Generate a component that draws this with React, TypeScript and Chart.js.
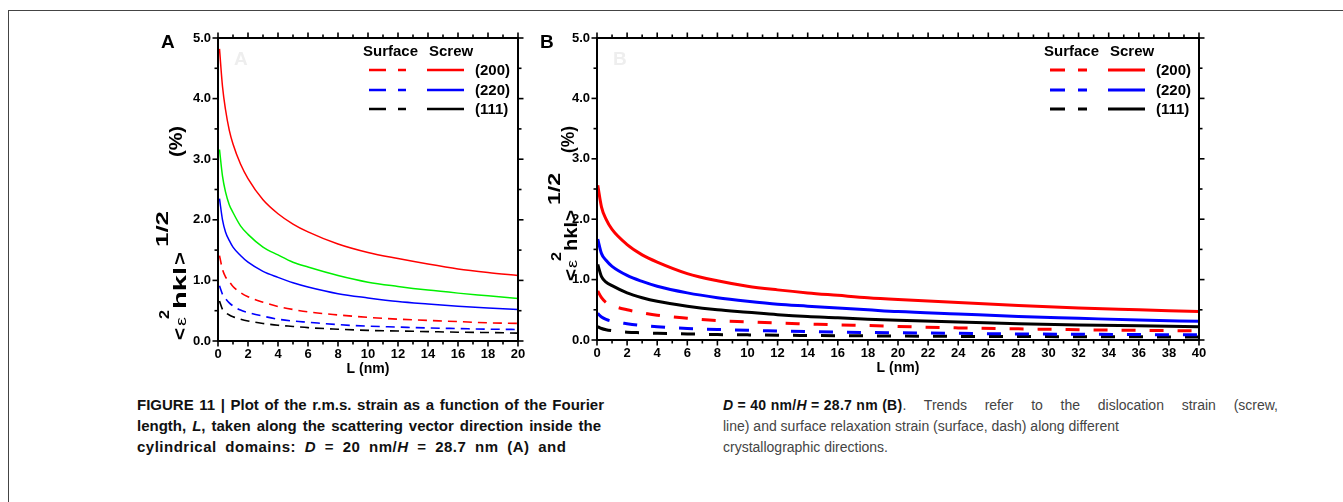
import React, { useEffect, useRef } from "react";
import { Chart, registerables } from "chart.js";

Chart.register(...registerables);

const FONT = "'Liberation Sans', Arial, Helvetica, sans-serif";

// ---------- Panel A data (D = 20 nm) ----------
const lA = [0.1, 0.3, 0.5, 0.75, 1, 1.5, 2, 3, 4, 5, 6, 8, 10, 12, 14, 16, 18, 20];
const screw200A = [4.82, 4.2, 3.82, 3.48, 3.25, 2.92, 2.68, 2.33, 2.1, 1.93, 1.8, 1.6, 1.46, 1.36, 1.27, 1.19, 1.13, 1.08];
const screwGreenA = [3.16, 2.72, 2.46, 2.25, 2.12, 1.9, 1.76, 1.55, 1.42, 1.3, 1.22, 1.08, 0.97, 0.9, 0.84, 0.79, 0.745, 0.7];
const screw220A = [2.35, 2.0, 1.8, 1.66, 1.55, 1.41, 1.3, 1.15, 1.05, 0.96, 0.89, 0.78, 0.71, 0.65, 0.61, 0.575, 0.545, 0.52];
const surface200A = [1.41, 1.18, 1.06, 0.98, 0.9, 0.8, 0.73, 0.64, 0.57, 0.52, 0.48, 0.43, 0.39, 0.36, 0.34, 0.32, 0.3, 0.29];
const surface220A = [0.91, 0.77, 0.7, 0.63, 0.58, 0.51, 0.47, 0.41, 0.36, 0.33, 0.31, 0.27, 0.245, 0.23, 0.215, 0.205, 0.195, 0.19];
const surface111A = [0.66, 0.52, 0.47, 0.43, 0.4, 0.36, 0.33, 0.29, 0.26, 0.24, 0.22, 0.195, 0.175, 0.165, 0.155, 0.145, 0.14, 0.13];

// ---------- Panel B data (D = 40 nm) ----------
const lB = [0.05, 0.3, 0.6, 1, 2, 3, 4, 6, 8, 10, 12, 14, 16, 18, 20, 24, 28, 32, 36, 40];
const screw200B = [2.56, 2.2, 2.0, 1.83, 1.58, 1.41, 1.29, 1.1, 0.98, 0.89, 0.83, 0.78, 0.74, 0.7, 0.67, 0.62, 0.57, 0.53, 0.5, 0.47];
const screw220B = [1.67, 1.43, 1.32, 1.22, 1.07, 0.97, 0.89, 0.78, 0.7, 0.64, 0.59, 0.56, 0.53, 0.5, 0.47, 0.43, 0.39, 0.36, 0.33, 0.31];
const screw111B = [1.25, 1.05, 0.96, 0.9, 0.78, 0.7, 0.64, 0.56, 0.5, 0.46, 0.42, 0.39, 0.37, 0.345, 0.325, 0.3, 0.27, 0.25, 0.235, 0.22];
const surface200B = [0.81, 0.7, 0.62, 0.57, 0.5, 0.45, 0.41, 0.36, 0.32, 0.3, 0.28, 0.265, 0.25, 0.24, 0.225, 0.2, 0.185, 0.17, 0.16, 0.15];
const surface220B = [0.44, 0.38, 0.34, 0.31, 0.27, 0.24, 0.22, 0.19, 0.175, 0.16, 0.15, 0.14, 0.13, 0.125, 0.12, 0.11, 0.1, 0.095, 0.09, 0.085];
const surface111B = [0.22, 0.19, 0.17, 0.155, 0.13, 0.12, 0.11, 0.1, 0.09, 0.085, 0.08, 0.075, 0.07, 0.068, 0.065, 0.06, 0.057, 0.055, 0.052, 0.05];

// ---------- Legend / labels ----------
const legendHeaders = ["Surface", "Screw"];
const legendLabels = ["(200)", "(220)", "(111)"];
const legendColors = ["#ff0000", "#0000ff", "#000000"];
const xTitle = "L (nm)";

const RED = "#ff0000";
const BLUE = "#0000ff";
const GREEN = "#00f000";
const BLACK = "#000000";

type Piece = { t: string; f: string; bx: number; y0: number; y1: number };

function pts(xs: number[], ys: number[]) {
  return xs.map((x, i) => ({ x, y: ys[i] }));
}

function drawRot(ctx: CanvasRenderingContext2D, p: Piece, ox: number, oy: number) {
  ctx.save();
  ctx.font = p.f;
  const w = ctx.measureText(p.t).width;
  ctx.translate(p.bx - ox, p.y0 - oy);
  ctx.rotate(-Math.PI / 2);
  ctx.scale((p.y0 - p.y1) / w, 1);
  ctx.textAlign = "left";
  ctx.textBaseline = "alphabetic";
  ctx.fillStyle = "#000";
  ctx.fillText(p.t, 0, 0);
  ctx.restore();
}

const decorPlugin = {
  id: "decor",
  afterDraw(chart: any, _args: any, opts: any) {
    const { ctx, chartArea: a, scales } = chart;
    const xs = scales.x;
    const ys = scales.y;
    const ox = opts.ox, oy = opts.oy;
    ctx.save();
    ctx.strokeStyle = "#000";
    ctx.fillStyle = "#000";
    ctx.lineWidth = 2;
    ctx.strokeRect(a.left, a.top, a.right - a.left, a.bottom - a.top);
    ctx.lineWidth = 1.6;
    const seg = (x1: number, y1: number, x2: number, y2: number) => {
      ctx.beginPath();
      ctx.moveTo(x1, y1);
      ctx.lineTo(x2, y2);
      ctx.stroke();
    };
    for (let v = xs.min; v <= xs.max + 1e-9; v += opts.xMinor) {
      const px = xs.getPixelForValue(v);
      const major = Math.abs(v / opts.xMajor - Math.round(v / opts.xMajor)) < 1e-6;
      const len = major ? 5.5 : 3.5;
      seg(px, a.bottom, px, a.bottom + len);
      seg(px, a.top, px, a.top - len);
    }
    for (let v = ys.min; v <= ys.max + 1e-9; v += 0.5) {
      const py = ys.getPixelForValue(v);
      const major = Math.abs(v - Math.round(v)) < 1e-6;
      const len = major ? 5.5 : 3.5;
      seg(a.left, py, a.left - len, py);
      seg(a.right, py, a.right + len, py);
    }
    ctx.font = `bold 19px ${FONT}`;
    ctx.fillStyle = "#eeeeee";
    ctx.textBaseline = "alphabetic";
    ctx.textAlign = "left";
    ctx.fillText(opts.letter, a.left + 16, a.top + 27);
    ctx.fillStyle = "#000";
    ctx.fillText(opts.letter, a.left - 57, a.top + 10);
    ctx.font = `bold 14px ${FONT}`;
    ctx.textAlign = "center";
    ctx.textBaseline = "middle";
    ctx.fillText(xTitle, (a.left + a.right) / 2, a.bottom + 28);
    (opts.yTitle as Piece[]).forEach((p) => drawRot(ctx, p, ox, oy));
    ctx.font = `bold 15px ${FONT}`;
    ctx.textAlign = "left";
    ctx.textBaseline = "middle";
    ctx.fillText(legendHeaders[0], a.right - 155, a.top + 14);
    ctx.fillText(legendHeaders[1], a.right - 89, a.top + 14);
    const rowY = [32, 52, 71];
    legendLabels.forEach((lab, i) => {
      const yy = a.top + rowY[i];
      ctx.strokeStyle = legendColors[i];
      ctx.lineWidth = opts.legendWidth;
      ctx.setLineDash(opts.legendDash);
      seg(a.right - 149, yy, a.right - 112, yy);
      ctx.setLineDash([]);
      seg(a.right - 91, yy, a.right - 54, yy);
      ctx.fillStyle = "#000";
      ctx.fillText(lab, a.right - 43, yy + 1);
    });
    ctx.restore();
  },
};

function makeScales(xMax: number, fitX: number, fitY: number, fitTop: number, fitRight: number) {
  const tickFont = { family: FONT, size: 13, weight: "bold" as const };
  return {
    x: {
      type: "linear" as const,
      position: "bottom" as const,
      min: 0,
      max: xMax,
      ticks: { stepSize: 2, font: tickFont, color: "#000", padding: 6, maxRotation: 0, autoSkip: false },
      grid: { display: false, drawTicks: false },
      border: { display: false },
      afterFit: (s: any) => { s.height = fitX; },
    },
    y: {
      type: "linear" as const,
      position: "left" as const,
      min: 0,
      max: 5,
      ticks: { stepSize: 1, font: tickFont, color: "#000", padding: 7, callback: (v: any) => Number(v).toFixed(1) },
      grid: { display: false, drawTicks: false },
      border: { display: false },
      afterFit: (s: any) => { s.width = fitY; },
    },
    x2: {
      type: "linear" as const,
      position: "top" as const,
      min: 0,
      max: xMax,
      ticks: { display: false },
      grid: { display: false, drawTicks: false },
      border: { display: false },
      afterFit: (s: any) => { s.height = fitTop; },
    },
    y2: {
      type: "linear" as const,
      position: "right" as const,
      min: 0,
      max: 5,
      ticks: { display: false },
      grid: { display: false, drawTicks: false },
      border: { display: false },
      afterFit: (s: any) => { s.width = fitRight; },
    },
  };
}

function line(data: any[], color: string, width: number, dash: number[] = []) {
  return {
    data,
    borderColor: color,
    backgroundColor: color,
    borderWidth: width,
    borderDash: dash,
    pointRadius: 0,
    fill: false,
    cubicInterpolationMode: "monotone" as const,
    xAxisID: "x",
    yAxisID: "y",
  };
}

const A_BOX = { left: 140, top: 20, width: 400, height: 360 };
const B_BOX = { left: 520, top: 20, width: 700, height: 360 };

const yTitleA: Piece[] = [
  { t: "<", f: `bold 19px ${FONT}`, bx: 186, y0: 340, y1: 328 },
  { t: "\u03b5", f: `14px ${FONT}`, bx: 186, y0: 326, y1: 317 },
  { t: "2", f: `bold 15px ${FONT}`, bx: 169, y0: 319, y1: 310 },
  { t: "hkl", f: `bold 19px ${FONT}`, bx: 186, y0: 309, y1: 267 },
  { t: ">", f: `bold 19px ${FONT}`, bx: 186, y0: 265, y1: 252 },
  { t: "1/2", f: `bold 17px ${FONT}`, bx: 168, y0: 247, y1: 211 },
  { t: "(%)", f: `bold 18px ${FONT}`, bx: 182, y0: 157, y1: 126 },
];

const yTitleB: Piece[] = [
  { t: "<", f: `bold 19px ${FONT}`, bx: 577, y0: 281, y1: 269 },
  { t: "\u03b5", f: `14px ${FONT}`, bx: 577, y0: 268, y1: 260 },
  { t: "2", f: `bold 15px ${FONT}`, bx: 561, y0: 261, y1: 252 },
  { t: "hkl", f: `bold 19px ${FONT}`, bx: 577, y0: 251, y1: 222 },
  { t: ">", f: `bold 19px ${FONT}`, bx: 577, y0: 221, y1: 210 },
  { t: "1/2", f: `bold 17px ${FONT}`, bx: 560, y0: 205, y1: 173 },
  { t: "(%)", f: `bold 18px ${FONT}`, bx: 574, y0: 153, y1: 126 },
];

function Panel(props: { box: any; which: "A" | "B" }) {
  const ref = useRef<HTMLCanvasElement | null>(null);
  useEffect(() => {
    const cv = ref.current;
    if (!cv) return;
    const isA = props.which === "A";
    const datasets = isA
      ? [
          line(pts(lA, screw200A), RED, 1.5),
          line(pts(lA, screwGreenA), GREEN, 1.5),
          line(pts(lA, screw220A), BLUE, 1.5),
          line(pts(lA, surface200A), RED, 1.6, [9, 6]),
          line(pts(lA, surface220A), BLUE, 1.6, [9, 6]),
          line(pts(lA, surface111A), BLACK, 1.6, [9, 6]),
        ]
      : [
          line(pts(lB, screw200B), RED, 3),
          line(pts(lB, screw220B), BLUE, 3),
          line(pts(lB, screw111B), BLACK, 3),
          line(pts(lB, surface200B), RED, 3, [14, 14]),
          line(pts(lB, surface220B), BLUE, 3, [14, 14]),
          line(pts(lB, surface111B), BLACK, 3, [14, 14]),
        ];
    const scales = isA
      ? makeScales(20, 39, 78, 18, 22)
      : makeScales(40, 40, 77, 18, 21);
    const chart = new Chart(cv, {
      type: "line",
      data: { datasets },
      options: {
        animation: false,
        responsive: false,
        devicePixelRatio: 1,
        layout: { padding: 0 },
        scales,
        plugins: {
          legend: { display: false },
          tooltip: { enabled: false },
          title: { display: false },
          decor: {
            ox: props.box.left,
            oy: props.box.top,
            xMinor: 1,
            xMajor: 2,
            letter: props.which,
            yTitle: isA ? yTitleA : yTitleB,
            legendDash: isA ? [17, 12] : [15, 13],
            legendWidth: isA ? 2.5 : 3,
          },
        } as any,
      },
      plugins: [decorPlugin as any],
    });
    return () => chart.destroy();
  }, []);
  const b = props.box;
  return (
    <canvas
      ref={ref}
      width={b.width}
      height={b.height}
      style={{ position: "absolute", left: b.left, top: b.top, width: b.width, height: b.height }}
    />
  );
}

const capBold: React.CSSProperties = { fontWeight: "bold", color: "#111" };

function CapLine(props: {
  left: number;
  top: number;
  width?: number;
  bold?: boolean;
  size?: number;
  spacing?: number;
  wordSpacing?: number;
  children: any;
}) {
  const style: React.CSSProperties = {
    position: "absolute",
    left: props.left,
    top: props.top,
    whiteSpace: "nowrap",
    fontFamily: FONT,
    fontSize: props.size || 14,
    lineHeight: "16px",
    letterSpacing: props.spacing || 0,
    wordSpacing: props.wordSpacing || 0,
    color: props.bold ? "#111" : "#444",
    fontWeight: props.bold ? "bold" : "normal",
  };
  if (props.width) {
    style.width = props.width;
    style.textAlign = "justify";
    (style as any).textAlignLast = "justify";
  }
  return <div style={style}>{props.children}</div>;
}

const atom: React.CSSProperties = { display: "inline-block", whiteSpace: "pre" };

export default function App() {
  return (
    <div style={{ position: "absolute", left: 0, top: 0, width: 1343, height: 502, background: "#fff", overflow: "hidden" }}>
      <div style={{ position: "absolute", left: 8, top: 10, width: 1335, height: 492, borderTop: "1px solid #444", borderLeft: "1px solid #444" }} />
      <Panel box={A_BOX} which="A" />
      <Panel box={B_BOX} which="B" />
      <CapLine left={137} top={397} width={467} bold size={15}>
        FIGURE 11 | Plot of the r.m.s. strain as a function of the Fourier
      </CapLine>
      <CapLine left={137} top={418} width={464} bold size={15}>
        length, <i>L</i>, taken along the scattering vector direction inside the
      </CapLine>
      <CapLine left={137} top={439} bold size={15} spacing={0.5} wordSpacing={4}>
        cylindrical domains: <i>D</i> = 20 nm/<i>H</i> = 28.7 nm (A) and
      </CapLine>
      <CapLine left={723} top={397} width={555}>
        <span style={{ ...capBold, ...atom, letterSpacing: 0.3 }}>
          <i>D</i> = 40 nm/<i>H</i> = 28.7 nm (B)
        </span>
        . Trends refer to the dislocation strain (screw,
      </CapLine>
      <CapLine left={723} top={418}>
        line) and surface relaxation strain (surface, dash) along different
      </CapLine>
      <CapLine left={723} top={439}>
        crystallographic directions.
      </CapLine>
    </div>
  );
}
